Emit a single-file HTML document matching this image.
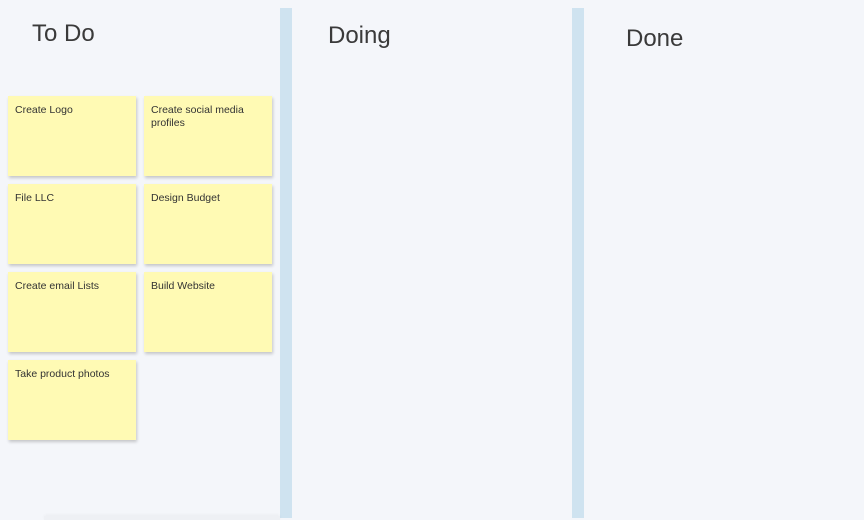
<!DOCTYPE html>
<html><head><style>
body{margin:0;width:864px;height:518px;background:#f4f6fa;position:relative;overflow:hidden;font-family:"Liberation Sans",sans-serif;}
.h{position:absolute;font-size:24px;color:#3a3a3a;}
.bar{position:absolute;top:8px;width:12px;height:510px;background:#cfe3f0;}
.n{position:absolute;width:128px;height:80px;background:#fffab4;box-shadow:1px 2px 3px rgba(0,0,0,0.2);font-size:10.5px;color:#333;box-sizing:border-box;padding:8px 7px;line-height:13px;}
</style></head><body>
<div class="h" style="left:32px;top:20px">To Do</div>
<div class="h" style="left:328px;top:22px">Doing</div>
<div class="h" style="left:626px;top:25px">Done</div>
<div class="bar" style="left:280px"></div>
<div class="bar" style="left:572px"></div>
<div class="n" style="left:8px;top:96px">Create Logo</div>
<div class="n" style="left:144px;top:96px">Create social media profiles</div>
<div class="n" style="left:8px;top:184px">File LLC</div>
<div class="n" style="left:144px;top:184px">Design Budget</div>
<div class="n" style="left:8px;top:272px">Create email Lists</div>
<div class="n" style="left:144px;top:272px">Build Website</div>
<div class="n" style="left:8px;top:360px">Take product photos</div>
<div style="position:absolute;left:44px;top:516px;width:236px;height:4px;background:#eef0f4;box-shadow:0 -1px 3px rgba(0,0,0,0.04)"></div>
</body></html>
